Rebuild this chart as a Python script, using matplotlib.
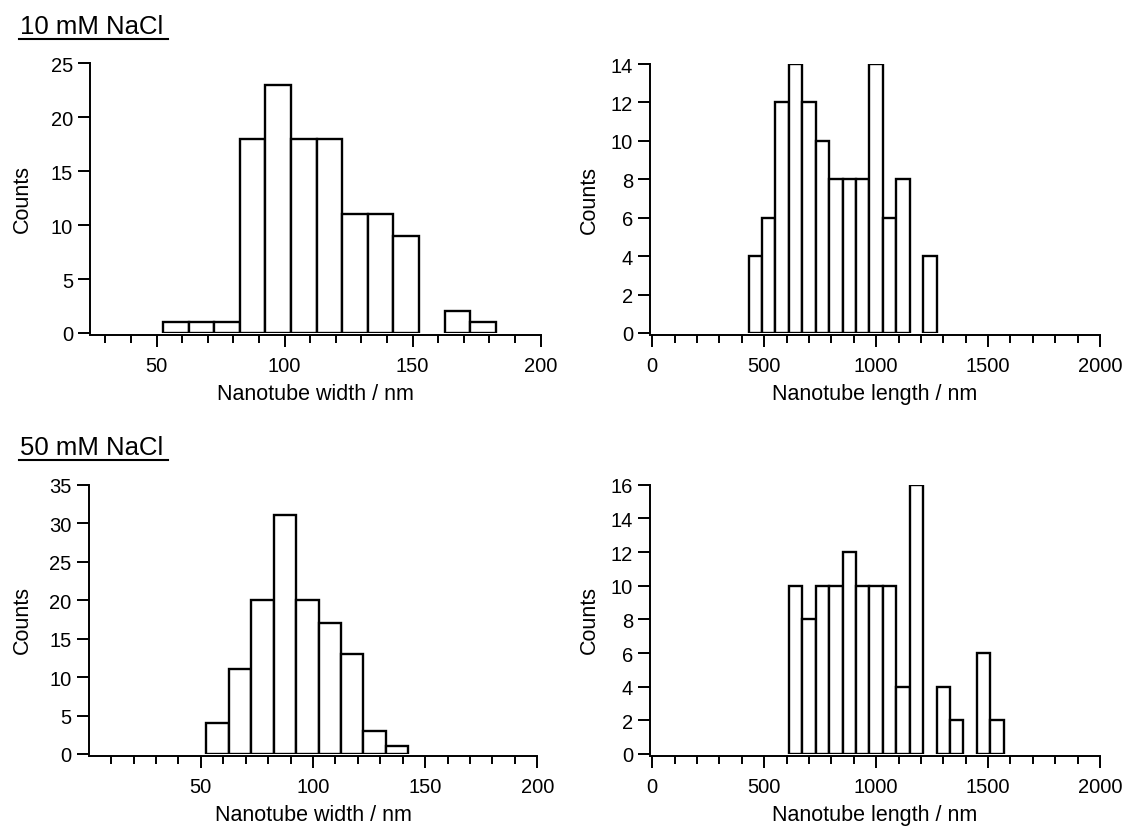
import matplotlib
matplotlib.use("Agg")
import matplotlib.pyplot as plt
from matplotlib.lines import Line2D
from matplotlib.ticker import FixedLocator

plt.rcParams["font.family"] = ["Liberation Sans", "DejaVu Sans"]

# histogram data (left bin edge, counts)
w10_left = [52.5, 62.5, 72.5, 82.5, 92.5, 102.5, 112.5, 122.5, 132.5, 142.5, 152.5, 162.5, 172.5]
w10_counts = [1, 1, 1, 18, 23, 18, 18, 11, 11, 9, 0, 2, 1]

l10_left = [430, 490, 550, 610, 670, 730, 790, 850, 910, 970, 1030, 1090, 1150, 1210]
l10_counts = [4, 6, 12, 14, 12, 10, 8, 8, 8, 14, 6, 8, 0, 4]

w50_left = [52.5, 62.5, 72.5, 82.5, 92.5, 102.5, 112.5, 122.5, 132.5]
w50_counts = [4, 11, 20, 31, 20, 17, 13, 3, 1]

l50_left = [610, 670, 730, 790, 850, 910, 970, 1030, 1090, 1150, 1210, 1270, 1330, 1390, 1450, 1510]
l50_counts = [10, 8, 10, 10, 12, 10, 10, 10, 4, 16, 0, 4, 2, 0, 6, 2]

W, H = 1126, 828
fig = plt.figure(figsize=(W / 100, H / 100), dpi=100)


def px_axes(x0, x1, ytop, ybot):
    return fig.add_axes([x0 / W, 1 - ybot / H, (x1 - x0) / W, (ybot - ytop) / H])


def hist(ax, left, counts, width, xlim, ymax, ystep, major, minor, xlabel, ylab_px):
    l = [a for a, c in zip(left, counts) if c > 0]
    c = [c for c in counts if c > 0]
    ax.bar(l, c, width=width, align="edge", facecolor="white",
           edgecolor="black", linewidth=1.7)
    ax.set_xlim(*xlim)
    ax.set_ylim(0, ymax)
    ax.set_yticks(range(0, ymax + 1, ystep))
    ax.xaxis.set_major_locator(FixedLocator(major))
    ax.xaxis.set_minor_locator(FixedLocator(minor))
    for s in ("top", "right"):
        ax.spines[s].set_visible(False)
    ax.spines["bottom"].set_position(("outward", 1.5))
    for s in ("left", "bottom"):
        ax.spines[s].set_linewidth(1.4)
    ax.tick_params(axis="both", which="major", direction="out", length=8.3,
                   width=1.4, labelsize=14.5)
    ax.tick_params(axis="x", which="minor", direction="out", length=5.5, width=1.4)
    ax.tick_params(axis="y", pad=4)
    ax.tick_params(axis="x", pad=6.5)
    ax.set_ylabel("Counts", fontsize=15.5)
    bb = ax.get_position()
    ax.yaxis.set_label_coords((ylab_px / W - bb.x0) / bb.width, 0.5)
    ax.set_xlabel(xlabel, fontsize=15.5, labelpad=6)


wmin = [m for m in range(30, 200, 10) if m % 50]
hist(px_axes(90, 540.7, 64.3, 334), w10_left, w10_counts, 10, (24, 200),
     25, 5, [50, 100, 150, 200], wmin, "Nanotube width / nm", 32.5)
lmin = [m for m in range(100, 2000, 100) if m % 500]
hist(px_axes(650, 1100, 65, 334), l10_left, l10_counts, 60, (-10, 2000),
     14, 2, [0, 500, 1000, 1500, 2000], lmin, "Nanotube length / nm", 600)
wmin2 = [m for m in range(10, 200, 10) if m % 50]
hist(px_axes(88.7, 537.3, 485.7, 755), w50_left, w50_counts, 10, (0, 200),
     35, 5, [50, 100, 150, 200], wmin2, "Nanotube width / nm", 32.5)
hist(px_axes(650, 1100, 485.7, 755), l50_left, l50_counts, 60, (-10, 2000),
     16, 2, [0, 500, 1000, 1500, 2000], lmin, "Nanotube length / nm", 600)

# underlined panel-row headings
for label, ytxt, yline in [("10 mM NaCl", 33.5, 39.5), ("50 mM NaCl", 455, 461)]:
    fig.text(20 / W, 1 - ytxt / H, label, fontsize=18.5, ha="left", va="baseline")
    fig.add_artist(Line2D([19 / W, 168 / W], [1 - yline / H, 1 - yline / H],
                          color="black", linewidth=1.5, transform=fig.transFigure))

fig.savefig("out.png", dpi=100)
